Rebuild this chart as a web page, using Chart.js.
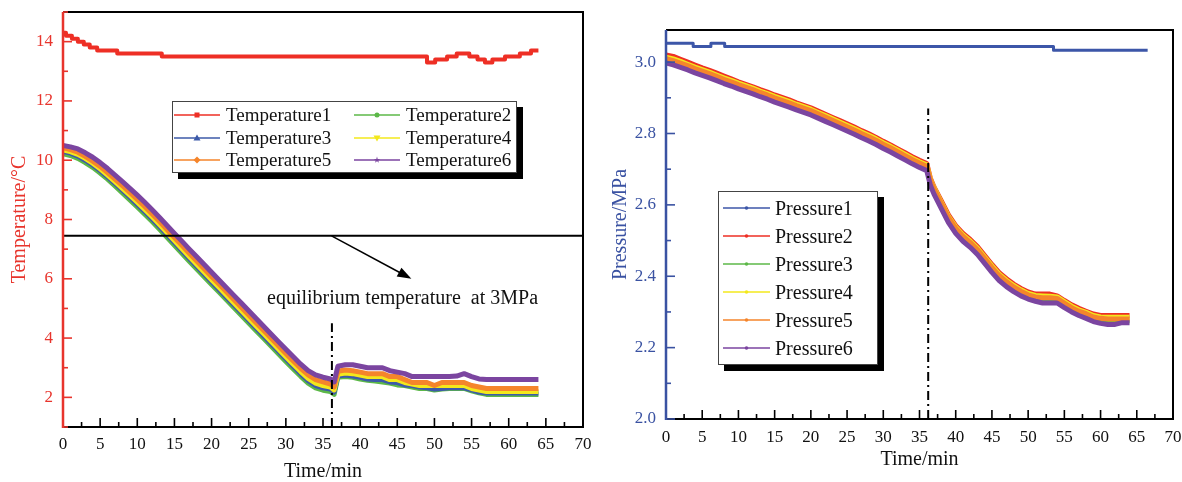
<!DOCTYPE html>
<html><head><meta charset="utf-8">
<script src="https://cdn.jsdelivr.net/npm/chart.js@4.4.1/dist/chart.umd.min.js"></script>
<style>
html,body{margin:0;padding:0;background:#fff;width:1182px;height:482px;overflow:hidden;font-family:"Liberation Serif","Times New Roman",serif;}
.wrap{position:absolute;top:0;height:482px;}
#wl{left:0;width:600px;}
#wr{left:600px;width:582px;}
.leg{position:absolute;background:#fff;border:1px solid #444;box-shadow:6px 6px 0 #000;color:#111;}
.item{position:absolute;display:flex;align-items:center;white-space:nowrap;}
.item svg{flex:none;}
.note{position:absolute;white-space:pre;font-size:20px;color:#111;}
</style>
</head><body>
<div class="wrap" id="wl"><canvas id="cl" width="600" height="482"></canvas></div>
<div class="wrap" id="wr"><canvas id="cr" width="582" height="482"></canvas></div>
<div class="leg" id="legL" style="left:172px;top:101px;width:343px;height:70px;font-size:19px;"></div>
<div class="leg" id="legR" style="left:718px;top:191px;width:158px;height:172px;font-size:20px;"></div>
<div class="note" style="left:267px;top:286px;">equilibrium temperature  at 3MPa</div>
<script>
// ---------------- DATA ----------------
const xTickLabels = [0,5,10,15,20,25,30,35,40,45,50,55,60,65,70];
const tempTickLabels = [2,4,6,8,10,12,14];
const pressTickLabels = [2.0,2.2,2.4,2.6,2.8,3.0];

const tempNames = ["Temperature1","Temperature2","Temperature3","Temperature4","Temperature5","Temperature6"];
const pressNames = ["Pressure1","Pressure2","Pressure3","Pressure4","Pressure5","Pressure6"];

// sampling times (min) shared by series 2-6
const times = [0,1,2,3,4,5,6,7,8,9,10,11,12,13,14,15,16,17,18,19,20,21,22,23,24,25,26,27,28,29,30,31,32,33,34,35,36,36.5,
  37,38,39,40,41,42,43,44,45,46,47,48,49,50,51,52,53,54,55,56,57,58,59,60,61,62,63,64];

// Temperature1 (step changes: value holds from its time until the next time)
const temp1Times = [0,0.4,1.2,2.0,2.8,3.6,4.6,7.3,13.3,49.0,50.1,51.7,53.0,54.7,55.8,56.8,57.8,59.5,61.5,63.0,64.0];
const temp1 = [14.3,14.2,14.1,14.0,13.9,13.8,13.7,13.6,13.5,13.3,13.4,13.5,13.6,13.5,13.4,13.3,13.4,13.5,13.6,13.7,13.7];

const temp2 = [10.22,10.16,10.06,9.92,9.76,9.57,9.36,9.13,8.90,8.66,8.42,8.18,7.93,7.67,7.40,7.13,6.86,6.59,6.33,6.07,5.81,5.55,5.29,5.03,4.77,4.51,4.25,3.99,3.73,3.47,3.21,2.96,2.71,2.48,2.32,2.24,2.20,2.10,
  2.68,2.70,2.68,2.62,2.58,2.55,2.52,2.48,2.42,2.40,2.35,2.30,2.30,2.25,2.28,2.30,2.30,2.30,2.22,2.15,2.10,2.10,2.10,2.10,2.10,2.10,2.10,2.10];
const temp3 = [10.30,10.24,10.14,10.00,9.84,9.65,9.44,9.22,8.99,8.75,8.51,8.27,8.02,7.76,7.49,7.22,6.95,6.68,6.42,6.16,5.90,5.64,5.38,5.12,4.86,4.60,4.34,4.08,3.82,3.56,3.30,3.05,2.80,2.56,2.40,2.32,2.28,2.18,
  2.72,2.75,2.72,2.68,2.62,2.60,2.60,2.52,2.50,2.42,2.40,2.35,2.32,2.28,2.30,2.32,2.32,2.32,2.25,2.18,2.15,2.15,2.15,2.15,2.15,2.15,2.15,2.15];
const temp4 = [10.35,10.29,10.20,10.06,9.90,9.71,9.50,9.28,9.05,8.82,8.58,8.34,8.09,7.83,7.56,7.29,7.02,6.75,6.49,6.23,5.97,5.71,5.45,5.19,4.93,4.67,4.41,4.15,3.89,3.63,3.37,3.12,2.87,2.64,2.48,2.40,2.35,2.25,
  2.78,2.82,2.80,2.75,2.70,2.70,2.70,2.60,2.60,2.50,2.45,2.40,2.40,2.40,2.40,2.40,2.40,2.40,2.30,2.25,2.20,2.20,2.20,2.20,2.20,2.20,2.20,2.20];
const temp5 = [10.42,10.36,10.27,10.13,9.97,9.79,9.58,9.36,9.14,8.91,8.68,8.44,8.19,7.93,7.66,7.39,7.13,6.86,6.60,6.34,6.08,5.82,5.56,5.30,5.04,4.78,4.52,4.26,4.00,3.74,3.48,3.23,2.98,2.76,2.60,2.52,2.45,2.35,
  2.88,2.92,2.90,2.85,2.80,2.80,2.80,2.70,2.70,2.60,2.50,2.50,2.50,2.40,2.50,2.50,2.50,2.50,2.40,2.35,2.30,2.30,2.30,2.30,2.30,2.30,2.30,2.30];
const temp6 = [10.50,10.45,10.38,10.25,10.10,9.92,9.72,9.50,9.28,9.05,8.82,8.58,8.33,8.07,7.80,7.53,7.27,7.00,6.74,6.48,6.22,5.96,5.70,5.44,5.18,4.92,4.66,4.40,4.14,3.88,3.62,3.37,3.12,2.90,2.76,2.68,2.62,2.52,
  3.05,3.10,3.10,3.05,3.00,3.00,3.00,2.90,2.85,2.80,2.70,2.70,2.70,2.70,2.70,2.70,2.72,2.80,2.70,2.62,2.60,2.60,2.60,2.60,2.60,2.60,2.60,2.60];

// Pressure1 (step changes)
const press1Times = [0,3.75,6.2,8.1,53.5,66.5];
const press1 = [3.053,3.044,3.053,3.044,3.033,3.033];

const press2 = [3.020,3.016,3.008,3.000,2.992,2.984,2.977,2.969,2.961,2.953,2.945,2.938,2.931,2.923,2.916,2.908,2.901,2.894,2.886,2.879,2.872,2.863,2.854,2.845,2.836,2.827,2.818,2.808,2.799,2.789,2.778,2.768,2.757,2.746,2.735,2.725,2.716,2.675,
  2.650,2.612,2.572,2.542,2.520,2.503,2.483,2.458,2.433,2.410,2.393,2.378,2.366,2.356,2.350,2.350,2.350,2.345,2.332,2.320,2.310,2.302,2.294,2.290,2.290,2.290,2.290,2.290];
const press3 = [3.004,2.998,2.991,2.984,2.976,2.969,2.962,2.954,2.946,2.939,2.931,2.924,2.917,2.909,2.902,2.894,2.887,2.880,2.872,2.865,2.858,2.849,2.840,2.831,2.822,2.813,2.804,2.794,2.785,2.775,2.764,2.754,2.743,2.732,2.721,2.711,2.702,2.664,
  2.640,2.599,2.559,2.529,2.506,2.489,2.469,2.444,2.419,2.396,2.379,2.364,2.352,2.342,2.336,2.333,2.330,2.332,2.319,2.306,2.296,2.289,2.280,2.275,2.272,2.272,2.275,2.275];
const press4 = [3.014,3.009,3.002,2.994,2.986,2.979,2.972,2.964,2.956,2.949,2.941,2.934,2.927,2.919,2.912,2.904,2.897,2.890,2.882,2.875,2.868,2.859,2.850,2.841,2.832,2.823,2.814,2.804,2.795,2.785,2.774,2.764,2.753,2.742,2.731,2.721,2.712,2.672,
  2.648,2.608,2.568,2.538,2.516,2.499,2.479,2.454,2.429,2.406,2.389,2.374,2.362,2.352,2.346,2.345,2.344,2.342,2.329,2.316,2.306,2.299,2.290,2.286,2.285,2.285,2.285,2.285];
const press5 = [3.010,3.004,2.997,2.990,2.982,2.975,2.968,2.960,2.952,2.945,2.937,2.930,2.923,2.915,2.908,2.900,2.893,2.886,2.878,2.871,2.864,2.855,2.846,2.837,2.828,2.819,2.810,2.800,2.791,2.781,2.770,2.760,2.749,2.738,2.727,2.717,2.708,2.670,
  2.645,2.605,2.565,2.535,2.512,2.495,2.475,2.450,2.425,2.402,2.385,2.370,2.358,2.348,2.342,2.340,2.340,2.338,2.325,2.312,2.302,2.295,2.286,2.282,2.280,2.280,2.280,2.280];
const press6 = [2.998,2.992,2.985,2.978,2.970,2.963,2.956,2.948,2.940,2.933,2.925,2.918,2.911,2.903,2.896,2.888,2.881,2.874,2.866,2.859,2.852,2.843,2.834,2.825,2.816,2.807,2.798,2.788,2.779,2.769,2.758,2.748,2.737,2.726,2.715,2.705,2.696,2.655,
  2.630,2.590,2.550,2.520,2.498,2.481,2.461,2.436,2.411,2.388,2.371,2.357,2.345,2.336,2.330,2.325,2.325,2.325,2.312,2.300,2.290,2.282,2.273,2.268,2.265,2.265,2.270,2.270];

// ---------------- STYLE ----------------
const FONT = '"Liberation Serif","Times New Roman",serif';
const colors = ['#ee2f25','#5cb848','#3d5aa9','#f3e81c','#f5852b','#7b45a0'];
const pColors = ['#3c56a8','#ee2f25','#5cb848','#f3e81c','#f5852b','#7b45a0'];
const markers = ['rect','circle','triangle','triangleDown','diamond','star'];
const RED_AXIS = '#e8342c', BLUE_AXIS = '#3a52a2';

function pts(xs, ys){ return xs.map((t,i)=>({x:t,y:ys[i]})); }

const framePlugin = {
  id:'frame',
  afterDatasetsDraw(chart, args, o){
    const {ctx, chartArea:a, scales:{x,y}} = chart;
    ctx.save();
    (o.hLines||[]).forEach(v=>{
      const py = y.getPixelForValue(v);
      ctx.strokeStyle='#000'; ctx.lineWidth=2; ctx.setLineDash([]);
      ctx.beginPath(); ctx.moveTo(a.left,py); ctx.lineTo(a.right,py); ctx.stroke();
    });
    (o.vLines||[]).forEach(l=>{
      const px = x.getPixelForValue(l.x);
      ctx.strokeStyle='#000'; ctx.lineWidth=2; ctx.setLineDash([9,4,2,4]);
      ctx.beginPath(); ctx.moveTo(px,y.getPixelForValue(l.y0)); ctx.lineTo(px,y.getPixelForValue(l.y1)); ctx.stroke();
    });
    ctx.setLineDash([]);
    (o.arrows||[]).forEach(ar=>{
      const x0=x.getPixelForValue(ar.x0), y0=y.getPixelForValue(ar.y0);
      const x1=x.getPixelForValue(ar.x1), y1=y.getPixelForValue(ar.y1);
      const ang=Math.atan2(y1-y0,x1-x0);
      ctx.strokeStyle='#000'; ctx.fillStyle='#000'; ctx.lineWidth=1.5;
      ctx.beginPath(); ctx.moveTo(x0,y0); ctx.lineTo(x1-8*Math.cos(ang),y1-8*Math.sin(ang)); ctx.stroke();
      ctx.beginPath();
      ctx.moveTo(x1,y1);
      ctx.lineTo(x1-14*Math.cos(ang)+5*Math.sin(ang), y1-14*Math.sin(ang)-5*Math.cos(ang));
      ctx.lineTo(x1-14*Math.cos(ang)-5*Math.sin(ang), y1-14*Math.sin(ang)+5*Math.cos(ang));
      ctx.closePath(); ctx.fill();
    });
    ctx.lineWidth=2;
    ctx.strokeStyle='#000';
    ctx.beginPath(); ctx.moveTo(a.left,a.top); ctx.lineTo(a.right,a.top); ctx.lineTo(a.right,a.bottom); ctx.lineTo(a.left,a.bottom); ctx.stroke();
    ctx.lineWidth=1.6;
    for(let k=0; k*o.xMinor<=x.max+1e-9; k++){
      const v=k*o.xMinor, px=x.getPixelForValue(v);
      const len = (k%2===0)?9:5;
      ctx.beginPath(); ctx.moveTo(px,a.bottom); ctx.lineTo(px,a.bottom-len); ctx.stroke();
    }
    ctx.strokeStyle=o.axisColor;
    ctx.lineWidth=2.5;
    ctx.beginPath(); ctx.moveTo(a.left,a.top); ctx.lineTo(a.left,a.bottom+1); ctx.stroke();
    ctx.lineWidth=1.6;
    const start=Math.ceil(y.min/o.yMinor-1e-9);
    for(let k=start; k*o.yMinor<=y.max+1e-9; k++){
      const v=k*o.yMinor, py=y.getPixelForValue(v);
      const isMajor = Math.abs(Math.round(v/o.yMajor)*o.yMajor - v) < 1e-6;
      const len = isMajor?9:5;
      ctx.beginPath(); ctx.moveTo(a.left,py); ctx.lineTo(a.left+len,py); ctx.stroke();
    }
    ctx.restore();
  }
};

function mkSet(label, data, color, extra){
  return Object.assign({label, data, borderColor:color, backgroundColor:color, borderWidth:5,
    pointRadius:0, tension:0, fill:false, borderJoinStyle:'round', borderCapStyle:'butt'}, extra||{});
}

function axisX(h, pad, titlePadBottom){
  return {type:'linear', min:0, max:70,
    afterBuildTicks:s=>{ s.ticks = xTickLabels.map(v=>({value:v})); },
    afterFit:s=>{ s.height=h; s.paddingLeft=0; s.paddingRight=0; },
    grid:{display:false, drawTicks:false}, border:{display:false},
    ticks:{color:'#111', font:{family:FONT,size:17}, padding:pad, maxRotation:0, autoSkip:false},
    title:{display:true, text:'Time/min', color:'#111', font:{family:FONT,size:20}, padding:{top:0,bottom:titlePadBottom}}};
}

// ---------------- LEFT CHART ----------------
const leftSets = [
  mkSet(tempNames[0], pts(temp1Times,temp1), colors[0], {stepped:'before', borderWidth:4, order:6}),
  mkSet(tempNames[1], pts(times,temp2), colors[1], {order:5}),
  mkSet(tempNames[2], pts(times,temp3), colors[2], {order:4}),
  mkSet(tempNames[3], pts(times,temp4), colors[3], {order:3}),
  mkSet(tempNames[4], pts(times,temp5), colors[4], {order:2}),
  mkSet(tempNames[5], pts(times,temp6), colors[5], {order:1})
];
new Chart(document.getElementById('cl'), {
  type:'line',
  data:{datasets:leftSets},
  plugins:[framePlugin],
  options:{
    responsive:false, animation:false, devicePixelRatio:1,
    layout:{padding:{left:0,top:12,right:17,bottom:0}},
    plugins:{legend:{display:false}, tooltip:{enabled:false},
      frame:{axisColor:RED_AXIS, xMinor:2.5, yMinor:1, yMajor:2,
        hLines:[7.45], vLines:[{x:36.2,y0:1.0,y1:4.5}], arrows:[{x0:36.15,y0:7.45,x1:46.9,y1:6.0}]}},
    scales:{
      x:axisX(55,7,-2),
      y:{min:1, max:15,
        afterBuildTicks:s=>{ s.ticks = tempTickLabels.map(v=>({value:v})); },
        afterFit:s=>{ s.width=63; s.paddingTop=0; s.paddingBottom=0; },
        grid:{display:false, drawTicks:false}, border:{display:false},
        ticks:{color:RED_AXIS, font:{family:FONT,size:17}, padding:10},
        title:{display:true, text:'Temperature/°C', color:RED_AXIS, font:{family:FONT,size:20}, padding:{top:8,bottom:0}}}
    }
  }
});

// ---------------- RIGHT CHART ----------------
const rightSets = [
  mkSet(pressNames[0], pts(press1Times,press1), pColors[0], {stepped:'before', borderWidth:3, order:6}),
  mkSet(pressNames[1], pts(times,press2), pColors[1], {order:5}),
  mkSet(pressNames[2], pts(times,press3), pColors[2], {order:4}),
  mkSet(pressNames[3], pts(times,press4), pColors[3], {order:3}),
  mkSet(pressNames[4], pts(times,press5), pColors[4], {order:2}),
  mkSet(pressNames[5], pts(times,press6), pColors[5], {order:1})
];
new Chart(document.getElementById('cr'), {
  type:'line',
  data:{datasets:rightSets},
  plugins:[framePlugin],
  options:{
    responsive:false, animation:false, devicePixelRatio:1,
    layout:{padding:{left:0,top:30,right:9,bottom:0}},
    plugins:{legend:{display:false}, tooltip:{enabled:false},
      frame:{axisColor:BLUE_AXIS, xMinor:2.5, yMinor:0.1, yMajor:0.2,
        vLines:[{x:36.2,y0:2.0,y1:2.87}]}},
    scales:{
      x:axisX(63,8,10),
      y:{min:2.0, max:3.09,
        afterBuildTicks:s=>{ s.ticks = pressTickLabels.map(v=>({value:v})); },
        afterFit:s=>{ s.width=66; s.paddingTop=0; s.paddingBottom=0; },
        grid:{display:false, drawTicks:false}, border:{display:false},
        ticks:{color:BLUE_AXIS, font:{family:FONT,size:17}, padding:10, callback:v=>Number(v).toFixed(1)},
        title:{display:true, text:'Pressure/MPa', color:BLUE_AXIS, font:{family:FONT,size:20}, padding:{top:9,bottom:0}}}
    }
  }
});

// ---------------- LEGENDS (HTML) ----------------
function markerSvg(kind, color, cx, cy, r){
  switch(kind){
    case 'rect': return `<rect x="${cx-r}" y="${cy-r}" width="${2*r}" height="${2*r}" fill="${color}"/>`;
    case 'circle': return `<circle cx="${cx}" cy="${cy}" r="${r}" fill="${color}"/>`;
    case 'triangle': return `<polygon points="${cx},${cy-r-1} ${cx-r-1},${cy+r} ${cx+r+1},${cy+r}" fill="${color}"/>`;
    case 'triangleDown': return `<polygon points="${cx},${cy+r+1} ${cx-r-1},${cy-r} ${cx+r+1},${cy-r}" fill="${color}"/>`;
    case 'diamond': return `<polygon points="${cx},${cy-r-1} ${cx+r+1},${cy} ${cx},${cy+r+1} ${cx-r-1},${cy}" fill="${color}"/>`;
    default: {
      let p=[]; for(let i=0;i<10;i++){ const rr=i%2?r*0.5:r+1; const an=-Math.PI/2+i*Math.PI/5; p.push((cx+rr*Math.cos(an)).toFixed(1)+','+(cy+rr*Math.sin(an)).toFixed(1)); }
      return `<polygon points="${p.join(' ')}" fill="${color}"/>`;
    }
  }
}
function legendItem(name, color, mk, left, top, h, svgW, lineX0, lineX1, mr, gap){
  const cy=h/2;
  return `<div class="item" style="left:${left}px;top:${top}px;height:${h}px;">`+
    `<svg width="${svgW}" height="${h}"><line x1="${lineX0}" y1="${cy}" x2="${lineX1}" y2="${cy}" stroke="${color}" stroke-width="1.5"/>`+
    markerSvg(mk, color, (lineX0+lineX1)/2, cy, mr)+`</svg><span style="margin-left:${gap}px">${name}</span></div>`;
}
let hl='';
tempNames.forEach((n,i)=>{
  const col=i%2, row=Math.floor(i/2);
  hl += legendItem(n, colors[i], markers[i], col*180, 2+row*22.5, 22, 48, 1, 47, 2.5, 5);
});
document.getElementById('legL').innerHTML=hl;
let hr='';
pressNames.forEach((n,i)=>{
  hr += legendItem(n, pColors[i], 'circle', 0, 2+i*28, 28, 52, 4, 51, 1.8, 4);
});
document.getElementById('legR').innerHTML=hr;
</script>
</body></html>
